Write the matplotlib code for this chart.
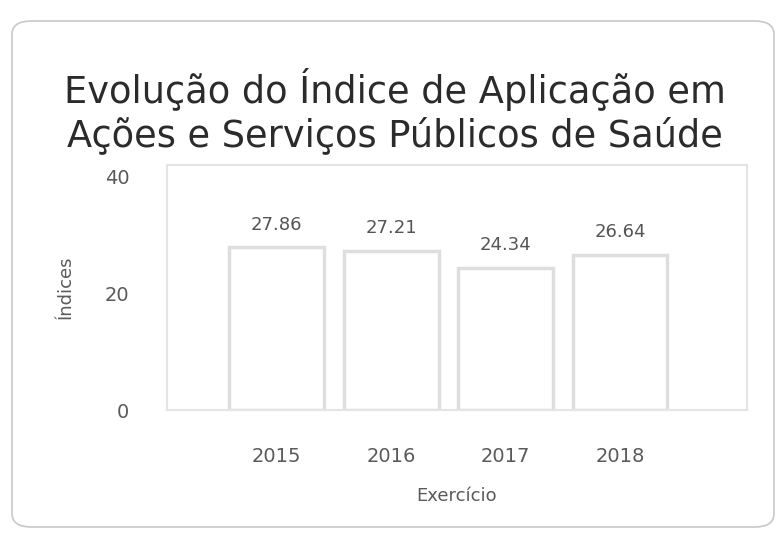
import matplotlib.pyplot as plt
from matplotlib.patches import FancyBboxPatch

# data
anos = ['2015', '2016', '2017', '2018']
indices = [27.86, 27.21, 24.34, 26.64]

titulo = 'Evolução do Índice de Aplicação em\nAções e Serviços Públicos de Saúde'

plt.rcParams['font.family'] = ['DejaVu Sans']

fig = plt.figure(figsize=(7.82, 5.34), dpi=100)
fig.patch.set_facecolor('white')

# rounded card around the chart (no fill, so it does not hide the axes)
card = FancyBboxPatch((12 / 782, 1 - 527 / 534), 762 / 782, 506 / 534,
                      boxstyle='round,pad=0,rounding_size=0.025',
                      transform=fig.transFigure, facecolor='none',
                      edgecolor='#c8c8c8', linewidth=1.2, zorder=-1)
fig.patches.append(card)

fig.text(395 / 782, 1 - 111 / 534, titulo, ha='center', va='center',
         fontsize=26.5, color='#2b2b2b', linespacing=1.2)

ax = fig.add_axes([167 / 782, 1 - 410 / 534, 580 / 782, 245 / 534])
ax.set_facecolor('white')

x = range(len(anos))
bars = ax.bar(x, indices, width=0.83, color='white', edgecolor='#dedede',
              linewidth=2.5)

for xi, v in zip(x, indices):
    ax.annotate(f'{v:.2f}', (xi, v), xytext=(0, 10), textcoords='offset points',
                ha='center', va='bottom', fontsize=13, color='#555555')

ax.set_xlim(-0.96, 4.11)
ax.set_ylim(0, 42)
ax.set_yticks([0, 20, 40])
ax.set_xticks(list(x))
ax.set_xticklabels(anos)
ax.tick_params(axis='both', length=0, labelsize=14, labelcolor='#5a5a5a')
ax.tick_params(axis='x', pad=27)
ax.tick_params(axis='y', pad=27)

for s in ax.spines.values():
    s.set_color('#e4e4e4')
    s.set_linewidth(1.5)

ax.set_xlabel('Exercício', fontsize=13, color='#5a5a5a', labelpad=15)
ax.set_ylabel('Índices', fontsize=13, color='#5a5a5a', labelpad=22)

fig.savefig('out.png', dpi=100)
